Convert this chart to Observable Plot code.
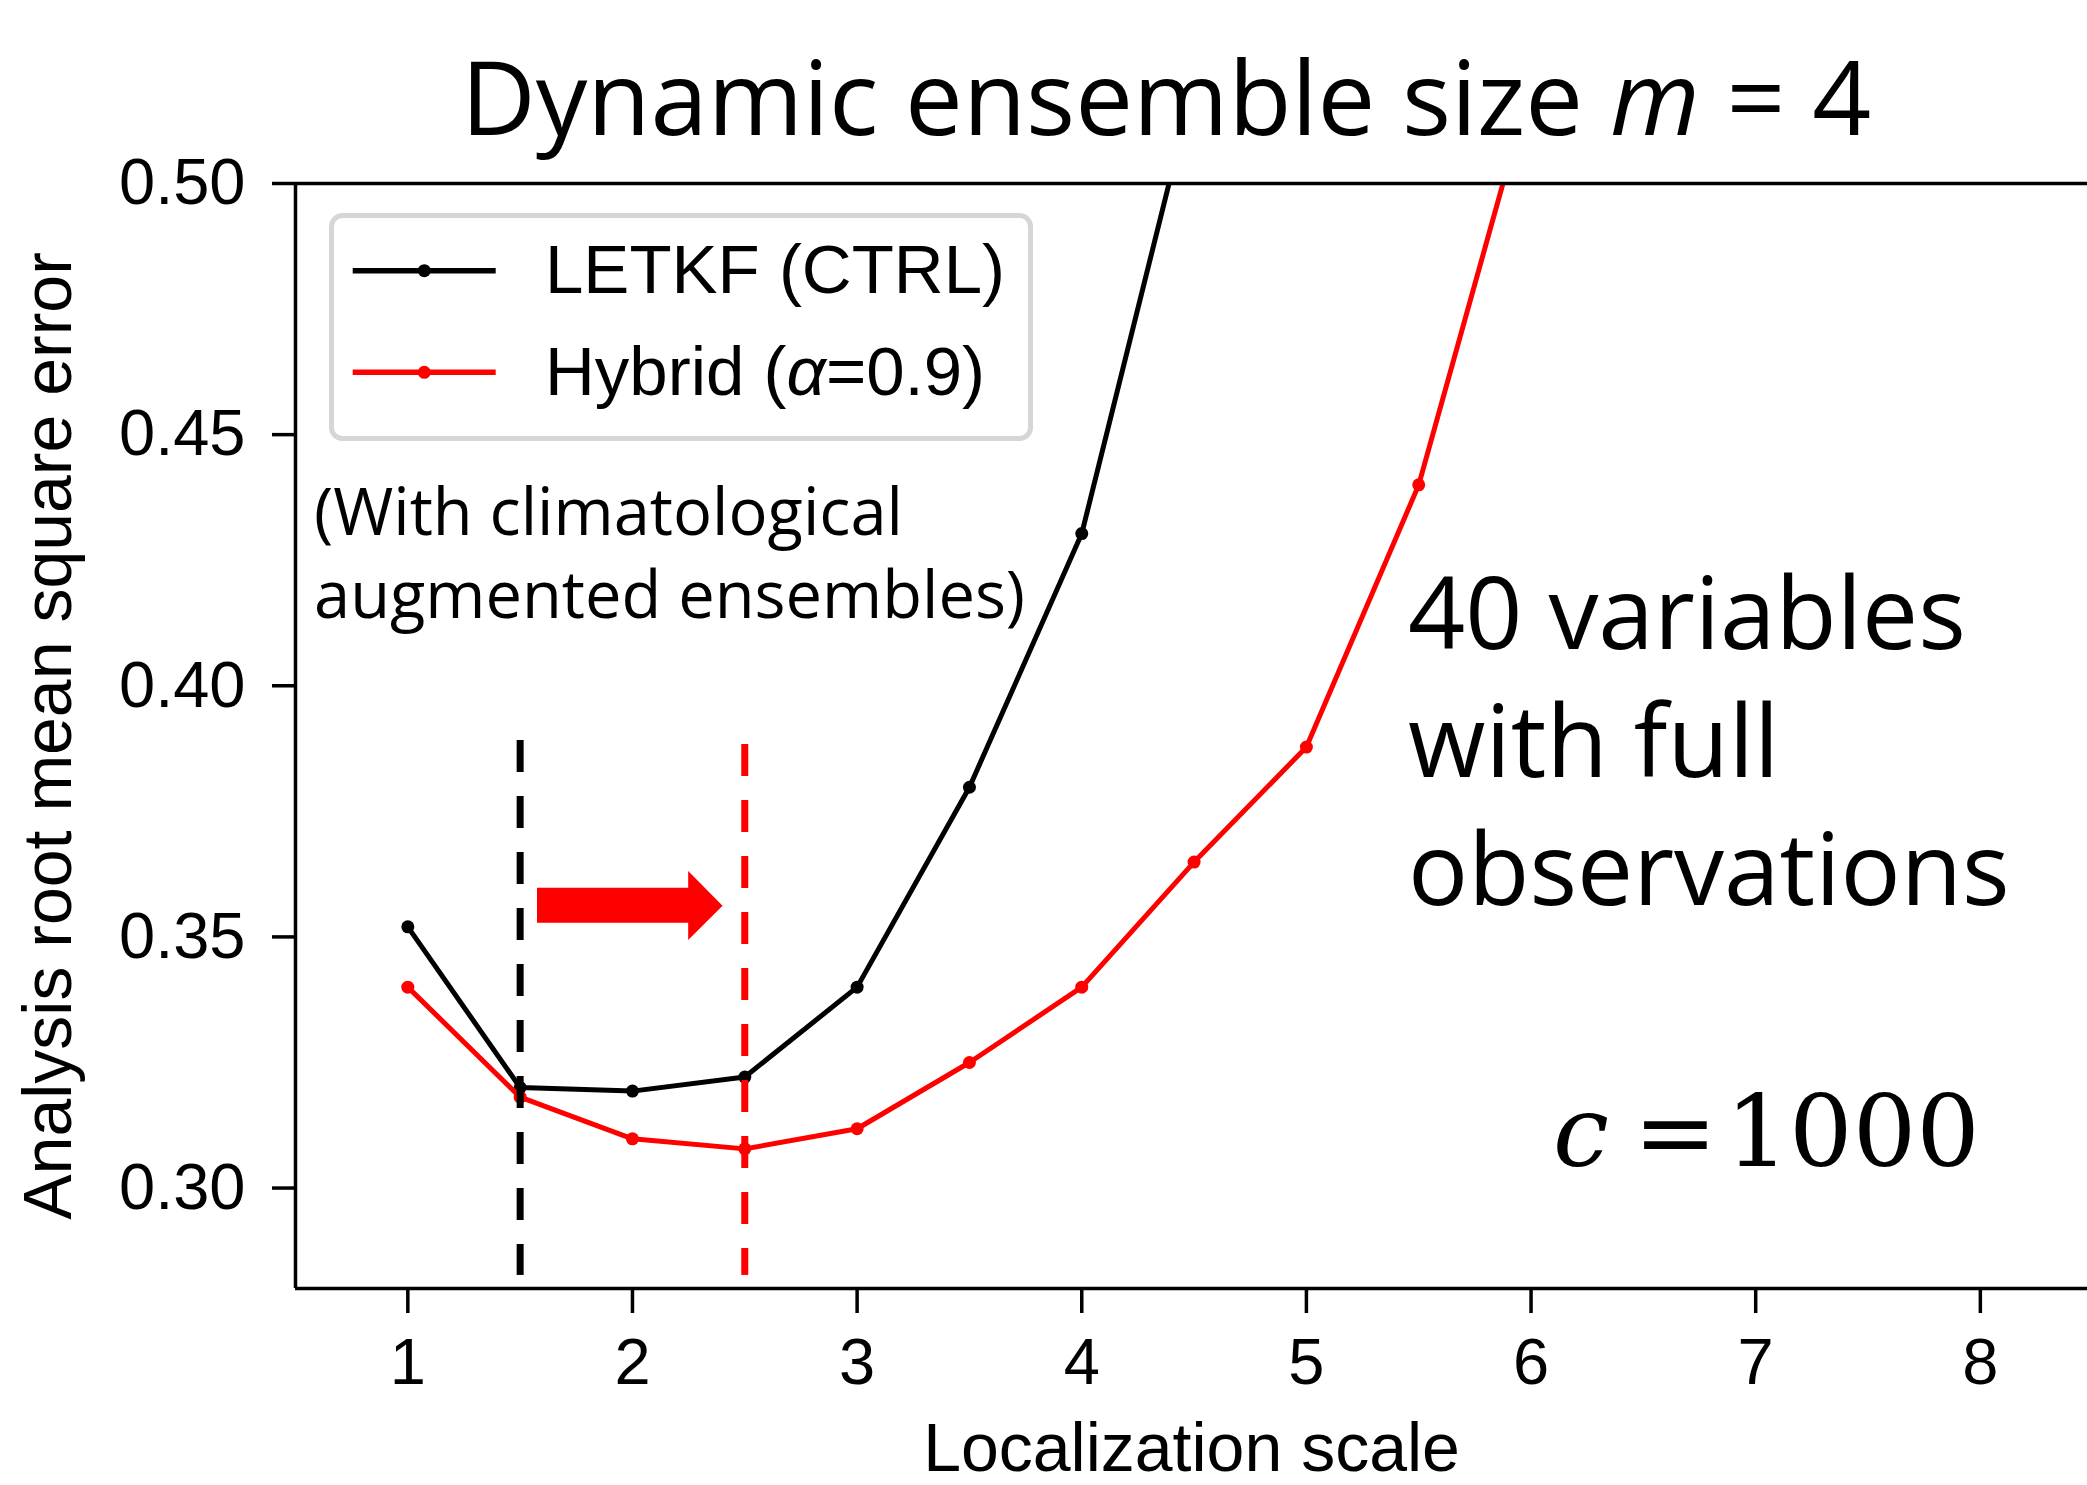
<!DOCTYPE html>
<html>
<head>
<meta charset="utf-8">
<script src="https://cdn.jsdelivr.net/npm/d3@7"></script>
<script src="https://cdn.jsdelivr.net/npm/@observablehq/plot@0.6"></script>
<style>
  html, body { margin: 0; padding: 0; background: #fff; overflow: hidden; }
  #wrap { position: relative; width: 2087px; height: 1485px; background: #fff; color: #000; }
  #title { position: absolute; left: 166px; top: 44px; width: 2000px; text-align: center;
           font-family: "Open Sans", "Noto Sans", sans-serif; font-size: 103px; line-height: 1; white-space: nowrap; }
  #chart { position: absolute; left: 0; top: 150px; }
  #legend { position: absolute; left: 0; top: 0; pointer-events: none; }
</style>
</head>
<body>
<div id="wrap">
  <div id="title">Dynamic ensemble size <i>m</i> = 4</div>
  <div id="chart"></div>
  <svg id="legend" width="2087" height="1485"></svg>
</div>
<script>
// ---- data ----
const letkfScale  = [1, 1.5, 2, 2.5, 3, 3.5, 4, 4.5];
const letkfRmse   = [0.352, 0.320, 0.3193, 0.3221, 0.340, 0.3798, 0.4303, 0.520];
const hybridScale = [1, 1.5, 2, 2.5, 3, 3.5, 4, 4.5, 5, 5.5, 6];
const hybridRmse  = [0.340, 0.3181, 0.3098, 0.3078, 0.3118, 0.325, 0.340, 0.3649, 0.3878, 0.440, 0.520];
const seriesNames = ["LETKF (CTRL)", "Hybrid (α=0.9)"];
const seriesColors = ["#000000", "#ff0000"];

const xTicks = [1, 2, 3, 4, 5, 6, 7, 8];
const yTicks = [0.30, 0.35, 0.40, 0.45, 0.50];
const xDomain = [0.5, 8.477];
const yDomain = [0.28, 0.50];
const xLabel = "Localization scale";
const yLabel = "Analysis root mean square error";

// optimal localization scales (dashed markers)
const optScale = [1.5, 2.5];
const optTop = [0.3891, 0.3883];
const optBottom = [0.2826, 0.2826];

// block arrow (data units)
const arrowX = [1.575, 2.248, 2.248, 2.401, 2.248, 2.248, 1.575];
const arrowY = [0.3598, 0.3598, 0.3631, 0.3562, 0.3494, 0.3528, 0.3528];

// annotations
const noteClim = {x: 0.5826, y: 0.4134, text: "(With climatological\naugmented ensembles)"};
const noteObs  = {x: 5.4525, y: 0.3564, text: "40 variables\nwith full\nobservations"};
const noteC    = [{x: 6.098, y: 0.3043, text: "c"}];
const noteEq   = [{x: 6.642, y: 0.3043, text: "="}];
const noteNum  = [{x: 7.998, y: 0.3043, text: "1000"}];

// ---- build tables ----
const letkf = letkfScale.map((s, i) => ({x: s, y: letkfRmse[i], series: seriesNames[0]}));
const hybrid = hybridScale.map((s, i) => ({x: s, y: hybridRmse[i], series: seriesNames[1]}));
const optLines = optScale.map((s, i) => ({x: s, y1: optTop[i], y2: optBottom[i], c: seriesColors[i]}));
const arrow = arrowX.map((x, i) => ({x, y: arrowY[i]}));

const sans = "'Liberation Sans', Arial, Helvetica, sans-serif";
const uiSans = "'Open Sans', 'Noto Sans', sans-serif";
const serif = "'DejaVu Serif', 'Liberation Serif', serif";

const chart = Plot.plot({
  width: 2087,
  height: 1335,
  marginTop: 33,
  marginBottom: 197,
  marginLeft: 295,
  marginRight: 0,
  style: {fontFamily: sans, fontSize: "65px", background: "transparent", color: "#000", overflow: "visible"},
  x: {domain: xDomain},
  y: {domain: yDomain},
  marks: [
    Plot.axisX({ticks: xTicks, tickFormat: d => String(d), tickSize: 25, tickPadding: 24, strokeWidth: 3.5, label: null}),
    Plot.axisY({ticks: yTicks, tickFormat: d3.format(".2f"), tickSize: 23, tickPadding: 27, strokeWidth: 3.5, label: null}),
    Plot.text([xLabel], {text: d => d, frameAnchor: "bottom", dy: 182, lineAnchor: "bottom", textAnchor: "middle",
               fontFamily: sans, fontSize: 68, fill: "#000"}),
    Plot.text([yLabel], {text: d => d, frameAnchor: "left", dx: -273, rotate: -90, lineAnchor: "top", textAnchor: "middle",
               fontFamily: sans, fontSize: 68, fill: "#000"}),
    Plot.line(letkf, {x: "x", y: "y", stroke: seriesColors[0], strokeWidth: 5, clip: true}),
    Plot.dot(letkf, {x: "x", y: "y", r: 6.5, fill: seriesColors[0], stroke: "none", clip: true}),
    Plot.line(hybrid, {x: "x", y: "y", stroke: seriesColors[1], strokeWidth: 5, clip: true}),
    Plot.dot(hybrid, {x: "x", y: "y", r: 6.5, fill: seriesColors[1], stroke: "none", clip: true}),
    Plot.ruleX(optLines, {x: "x", y1: "y1", y2: "y2", stroke: "c", strokeWidth: 7, strokeDasharray: "32,24"}),
    Plot.line(arrow, {x: "x", y: "y", fill: "#ff0000", stroke: "none"}),
    Plot.text([noteClim], {x: "x", y: "y", text: "text", textAnchor: "start", lineAnchor: "bottom",
               fontFamily: uiSans, fontSize: 65, lineHeight: 1.277, fill: "#000"}),
    Plot.text([noteObs], {x: "x", y: "y", text: "text", textAnchor: "start", lineAnchor: "bottom",
               fontFamily: uiSans, fontSize: 100, lineHeight: 1.28, fill: "#000"}),
    Plot.text(noteC, {x: "x", y: "y", text: "text", textAnchor: "start", lineAnchor: "bottom",
               fontFamily: serif, fontStyle: "italic", fontSize: 100, fill: "#000"}),
    Plot.text(noteEq, {x: "x", y: "y", text: "text", textAnchor: "middle", lineAnchor: "bottom",
               fontFamily: serif, fontSize: 100, fill: "#000"}),
    Plot.text(noteNum, {x: "x", y: "y", text: "text", textAnchor: "end", lineAnchor: "bottom",
               fontFamily: serif, fontSize: 100, fill: "#000"}),
    Plot.ruleY([yDomain[0], yDomain[1]], {stroke: "#000", strokeWidth: 3.5}),
    Plot.ruleX([xDomain[0]], {stroke: "#000", strokeWidth: 3.5})
  ]
});
document.getElementById("chart").appendChild(chart);

// ---- legend (overlay) ----
const lg = d3.select("#legend");
lg.append("rect").attr("x", 331.5).attr("y", 215.5).attr("width", 699).attr("height", 223)
  .attr("rx", 11).attr("fill", "#fff").attr("fill-opacity", 0.8)
  .attr("stroke", "#d6d6d6").attr("stroke-width", 5);
const rowsY = [270.7, 372.3];
seriesNames.forEach((name, i) => {
  const y = rowsY[i];
  lg.append("line").attr("x1", 352.7).attr("x2", 495.7).attr("y1", y).attr("y2", y)
    .attr("stroke", seriesColors[i]).attr("stroke-width", 5.5);
  lg.append("circle").attr("cx", 424.3).attr("cy", y).attr("r", 6.5).attr("fill", seriesColors[i]);
  const t = lg.append("text").attr("x", 545).attr("y", y + 22.5)
    .attr("font-family", sans).attr("font-size", 69).attr("fill", "#000");
  if (name.includes("α")) {
    const [a, b] = name.split("α");
    t.append("tspan").text(a);
    t.append("tspan").attr("font-style", "italic").text("α");
    t.append("tspan").text(b);
  } else {
    t.text(name);
  }
});
</script>
</body>
</html>
